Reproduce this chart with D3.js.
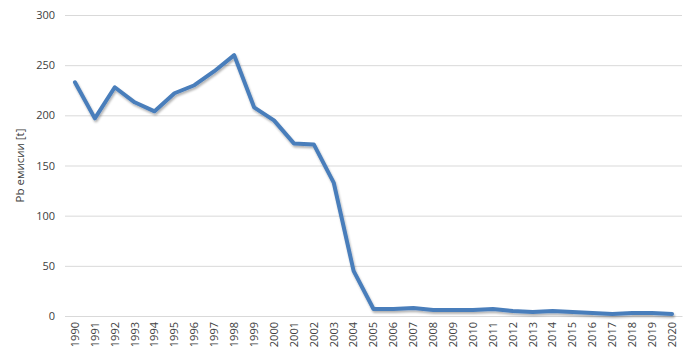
<!DOCTYPE html>
<html><head><meta charset="utf-8">
<script src="https://cdn.jsdelivr.net/npm/d3@7"></script>
<style>body{margin:0;background:#fff}svg{display:block}text{font-family:"Open Sans","Noto Sans",sans-serif;fill:#404040}</style>
</head><body><svg id="c" width="700" height="361"></svg>
<script>
const years = ["1990","1991","1992","1993","1994","1995","1996","1997","1998","1999","2000","2001","2002","2003","2004","2005","2006","2007","2008","2009","2010","2011","2012","2013","2014","2015","2016","2017","2018","2019","2020"];
const values = [233,197,228,213,204,222,230,244,260,208,195,172,171,133,45,7,7,8,6,6,6,7,5,4,5,4,3,2,3,3,2];
const yTicks = [0,50,100,150,200,250,300];
const yLabel = "Pb емисии [t]";

const svg = d3.select("#c");
const m = {l:65, r:18, t:15, b:45};
const W = 700, H = 361;
const x = d3.scaleBand().domain(years).range([m.l, W-m.r]);
const y = d3.scaleLinear().domain([0,300]).range([H-m.b, m.t]);

const defs = svg.append("defs");
const f = defs.append("filter").attr("id","sh").attr("x","-5%").attr("y","-5%").attr("width","110%").attr("height","120%");
f.append("feDropShadow").attr("dx",1).attr("dy",2).attr("stdDeviation",1.2).attr("flood-color","#000").attr("flood-opacity",0.3);

const gy = svg.append("g").attr("transform",`translate(${m.l},0)`)
  .call(d3.axisLeft(y).tickValues(yTicks).tickSize(-(W-m.l-m.r)).tickPadding(10));
gy.select(".domain").remove();
gy.selectAll(".tick line").attr("stroke","#d9d9d9");
gy.selectAll(".tick text").style("font-size","11px").attr("fill","#404040");

const gx = svg.append("g").attr("transform",`translate(0,${H-m.b})`)
  .call(d3.axisBottom(x).tickSize(0).tickPadding(6));
gx.select(".domain").attr("stroke","#d9d9d9");
gx.selectAll(".tick text").style("font-size","11px").attr("fill","#404040")
  .attr("text-anchor","end").attr("transform","rotate(-90)").attr("dx","-6px").attr("dy","0.35em").attr("y",0).attr("x",0);

svg.append("text").attr("transform",`translate(24,${(m.t+H-m.b)/2}) rotate(-90)`)
  .attr("text-anchor","middle").style("font-size","11.5px").text(yLabel);

const line = d3.line().x((d,i)=>x(years[i])+x.bandwidth()/2).y(d=>y(d));
svg.append("path").datum(values).attr("d",line).attr("fill","none")
  .attr("stroke","#4A7EBB").attr("stroke-width",4).attr("stroke-linejoin","round").attr("stroke-linecap","round").attr("filter","url(#sh)");
</script></body></html>
